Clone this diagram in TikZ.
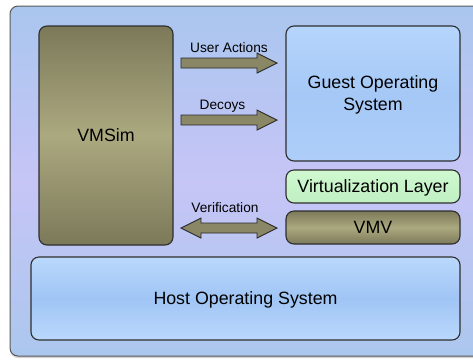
\documentclass[tikz,border=0pt]{standalone}
\usepackage{fontspec}
\setmainfont{Liberation Sans}
\usetikzlibrary{shadows}
\definecolor{frameTop}{HTML}{A9C6EE}
\definecolor{frameMid}{HTML}{C6C5F6}
\definecolor{frameBot}{HTML}{ABC7EE}
\definecolor{oliveDark}{HTML}{7C795A}
\definecolor{oliveLight}{HTML}{ABA97F}
\definecolor{arrowFill}{HTML}{8A8767}
\definecolor{blueTop}{HTML}{B6D5FC}
\definecolor{blueMid}{HTML}{A5C8F6}
\definecolor{blueBot}{HTML}{AECEF9}
\definecolor{hostTop}{HTML}{BAD8FC}
\definecolor{hostMid}{HTML}{A0C5F5}
\definecolor{greenTop}{HTML}{D0F8D0}
\definecolor{greenBot}{HTML}{BFF0C2}
\definecolor{edge}{HTML}{2E2E2E}
\begin{document}
\begin{tikzpicture}[x=1pt,y=-1pt,
  box/.style={draw=edge, line width=1.1pt, rounded corners=8pt, inner sep=0pt,
    text depth=0pt, align=center, font=\fontsize{17.8}{22}\selectfont},
  olivebox/.style={box, top color=oliveDark, bottom color=oliveDark, middle color=oliveLight},
  bluebox/.style={box, top color=blueTop, bottom color=blueBot, middle color=blueMid},
  hostbox/.style={box, top color=hostTop, bottom color=hostTop, middle color=hostMid},
  greenbox/.style={box, top color=greenTop, bottom color=greenBot},
  arrowbody/.style={draw=edge!90!black, line width=0.9pt, fill=arrowFill, line join=miter},
  smalllabel/.style={anchor=base, inner sep=0pt, font=\fontsize{13.7}{16}\selectfont}
]
\useasboundingbox (0,0) rectangle (473,360);
\clip (0,0) rectangle (473,360);
% window frame
\path[draw=black!65, line width=1pt, rounded corners=8pt,
  top color=frameTop, bottom color=frameBot, middle color=frameMid,
  drop shadow={shadow xshift=0pt, shadow yshift=-2pt, opacity=0.35}]
  (10,6) rectangle (495,356);
% boxes
\node[olivebox, minimum width=134pt, minimum height=219pt] (vmsim) at (106,135.5) {VMSim};
\node[bluebox, minimum width=174pt, minimum height=135pt] (guest) at (373,93.5) {Guest Operating\\System};
\node[greenbox, minimum width=174pt, minimum height=33pt] (virt) at (373,186.5) {Virtualization Layer};
\node[olivebox, minimum width=174pt, minimum height=33pt] (vmv) at (373,227.5) {VMV};
\node[hostbox, minimum width=429pt, minimum height=83pt] (host) at (245.5,298.5) {Host Operating System};
% arrow end points
\coordinate (uaS) at (181,63);
\coordinate (dcS) at (181,120);
\coordinate (vfS) at (181,228);
% fat arrows
\draw[arrowbody] (uaS) ++(0,-5) -- ++(76,0) -- ++(0,-5) -- ++(20,10) -- ++(-20,10) -- ++(0,-5) -- ++(-76,0) -- cycle;
\draw[arrowbody] (dcS) ++(0,-5) -- ++(76,0) -- ++(0,-5) -- ++(20,10) -- ++(-20,10) -- ++(0,-5) -- ++(-76,0) -- cycle;
\draw[arrowbody] (vfS) -- ++(20,-10) -- ++(0,5) -- ++(56,0) -- ++(0,-5) -- ++(20,10) -- ++(-20,10) -- ++(0,-5) -- ++(-56,0) -- ++(0,5) -- cycle;
% labels
\node[smalllabel] (ualab) at (229,52) {User Actions};
\node[smalllabel] (dclab) at (222.5,109) {Decoys};
\node[smalllabel] (vflab) at (225,212) {Verification};
\end{tikzpicture}
\end{document}
